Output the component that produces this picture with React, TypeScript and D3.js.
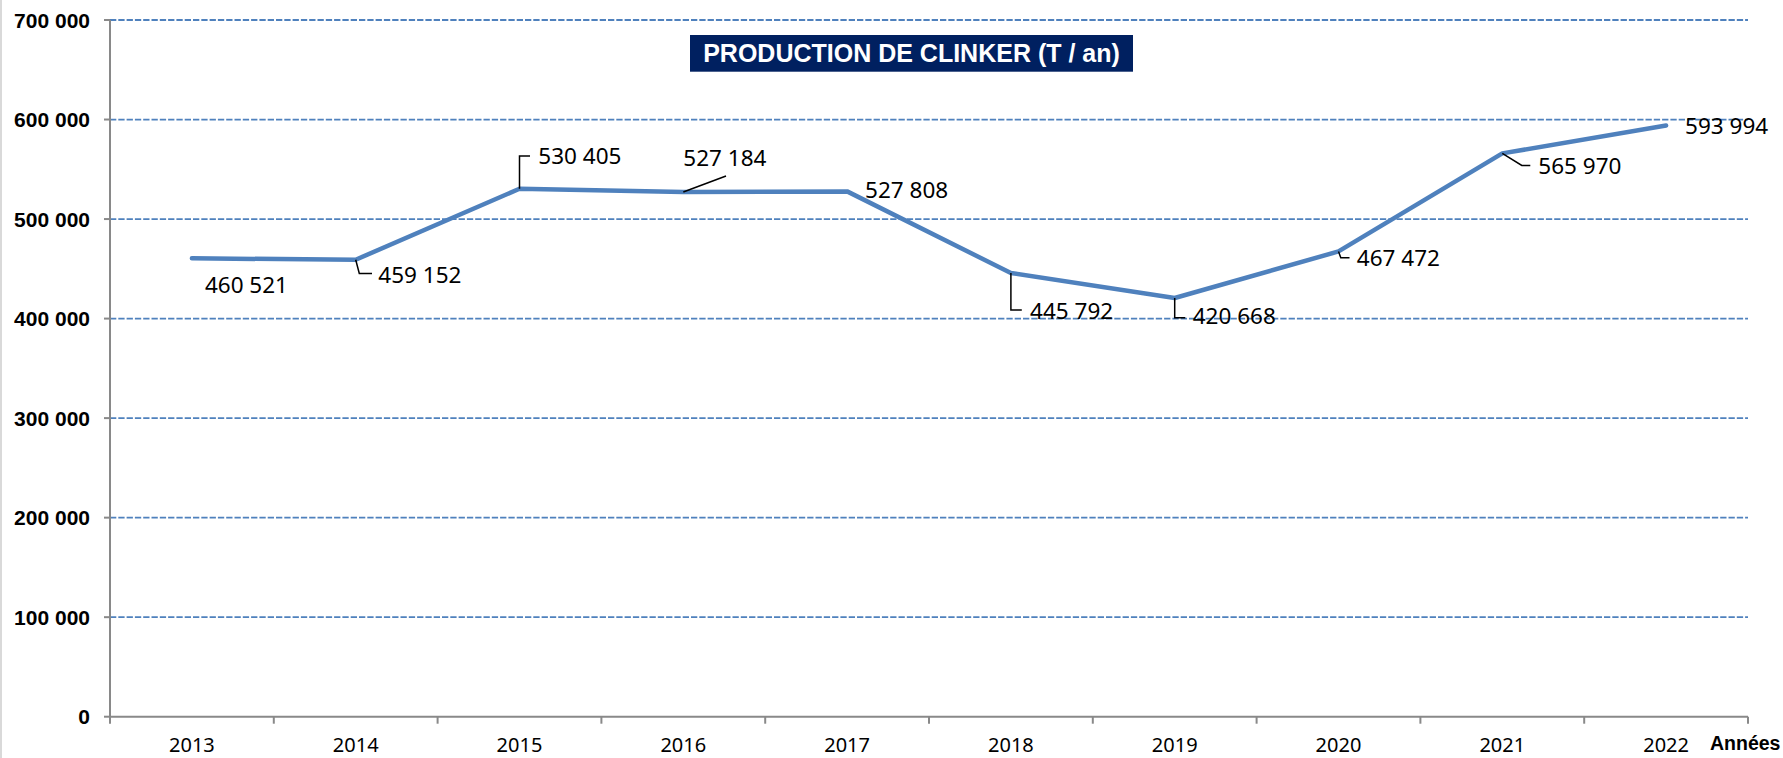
import * as d3 from 'd3';

const years = ['2013', '2014', '2015', '2016', '2017', '2018', '2019', '2020', '2021', '2022'];
const production = [460521, 459152, 530405, 527184, 527808, 445792, 420668, 467472, 565970, 593994];
const yTicks = [0, 100000, 200000, 300000, 400000, 500000, 600000, 700000];

// label placement relative to its point: text offset + optional leader polyline
const labelPos: { dx: number; dy: number; leader?: [number, number][] }[] = [
  { dx: 13, dy: 34.4 },
  { dx: 22.6, dy: 23, leader: [[3.6, 13.7], [16.3, 13.7]] },
  { dx: 18.8, dy: -24.5, leader: [[0, -32.8], [10.5, -32.8]] },
  { dx: 0, dy: -26, leader: [[42.7, -16]] },
  { dx: 18, dy: 6.2 },
  { dx: 19.2, dy: 46.4, leader: [[0, 37.1], [10.9, 37.1]] },
  { dx: 18, dy: 26.4, leader: [[0, 19.7], [10.6, 19.7]] },
  { dx: 18.3, dy: 14.7, leader: [[2.3, 6.3], [11, 6.3]] },
  { dx: 36, dy: 21, leader: [[19.5, 12], [28, 12]] },
  { dx: 19, dy: 8.7 },
];

const W = 1783;
const H = 758;
const fmt = (v: number) => d3.format(',')(v).replace(/,/g, '\u00a0');

export default function App() {
  const x = d3.scaleBand().domain(years).range([110, 1748]);
  const y = d3.scaleLinear().domain([0, 700000]).range([716.7, 20]);
  const cx = (d: string) => (x(d) ?? 0) + x.bandwidth() / 2;

  const line = d3
    .line<number>()
    .x((_, i) => cx(years[i]))
    .y((d) => y(d));

  const bounds = [...years.map((d) => x(d) ?? 0), 1748];

  return (
    <svg width={W} height={H} style={{ position: 'absolute', left: 0, top: 0, background: '#fff' }}>
      <line x1={1} x2={1} y1={0} y2={H} stroke="#d9d9d9" strokeWidth={2} />

      {/* gridlines */}
      {yTicks.filter((t) => t > 0).map((t) => (
        <line key={t} x1={110} x2={1748} y1={y(t)} y2={y(t)} stroke="#4f81bd" strokeWidth={1.8} strokeDasharray="6.3,2" />
      ))}

      {/* axes */}
      <line x1={110} x2={110} y1={y(700000)} y2={y(0)} stroke="#898989" strokeWidth={2} />
      <line x1={110} x2={1748} y1={y(0)} y2={y(0)} stroke="#898989" strokeWidth={2} />
      {yTicks.map((t) => (
        <g key={t}>
          <line x1={104} x2={110} y1={y(t)} y2={y(t)} stroke="#898989" strokeWidth={2} />
          <text x={90} y={y(t)} dy="0.36em" textAnchor="end" fontFamily="'Liberation Sans', Arial, sans-serif" fontWeight="bold" fontSize={21} fill="#000">
            {fmt(t)}
          </text>
        </g>
      ))}
      {bounds.map((b, i) => (
        <line key={i} x1={b} x2={b} y1={y(0)} y2={y(0) + 7} stroke="#898989" strokeWidth={2} />
      ))}
      {years.map((d) => (
        <text key={d} x={cx(d)} y={751.5} textAnchor="middle" fontFamily="'Noto Sans', sans-serif" fontSize={20} fill="#000">
          {d}
        </text>
      ))}
      <text x={1710} y={750} fontFamily="'Liberation Sans', Arial, sans-serif" fontWeight="bold" fontSize={19.5} fill="#000">
        Années
      </text>

      {/* series */}
      <path d={line(production) ?? ''} fill="none" stroke="#4f81bd" strokeWidth={4.5} strokeLinejoin="round" strokeLinecap="round" />

      {/* data labels */}
      {production.map((v, i) => {
        const px = cx(years[i]);
        const py = y(v);
        const p = labelPos[i];
        return (
          <g key={years[i]}>
            {p.leader && (
              <polyline
                points={[[0, 0], ...p.leader].map(([a, b]) => `${px + a},${py + b}`).join(' ')}
                fill="none"
                stroke="#000"
                strokeWidth={1.5}
              />
            )}
            <text x={px + p.dx} y={py + p.dy} fontFamily="'Noto Sans', sans-serif" fontSize={22.5} fill="#000">
              {fmt(v)}
            </text>
          </g>
        );
      })}

      {/* title */}
      <rect x={690} y={35} width={443} height={36.7} fill="#002060" />
      <text x={911.5} y={61.5} textAnchor="middle" fontFamily="'Liberation Sans', Arial, sans-serif" fontWeight="bold" fontSize={25} fill="#fff">
        PRODUCTION DE CLINKER (T / an)
      </text>
    </svg>
  );
}
